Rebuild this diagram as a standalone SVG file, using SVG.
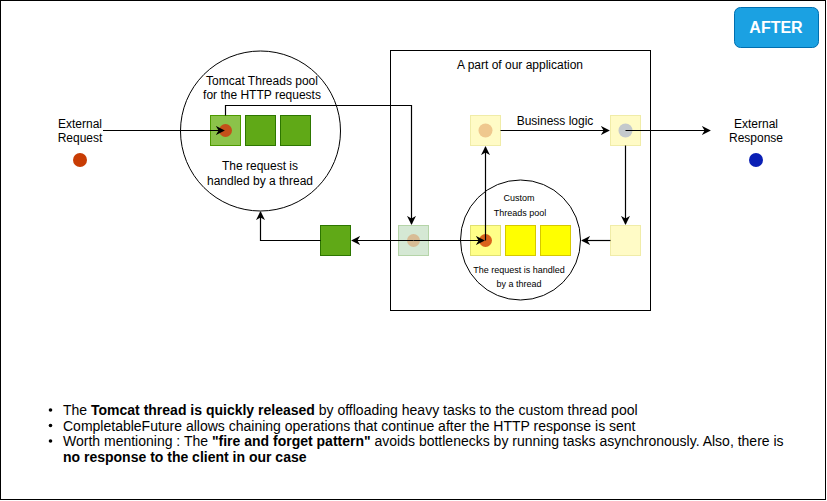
<svg xmlns="http://www.w3.org/2000/svg" width="827" height="501" viewBox="0 0 827 501">
<defs>
<style>
text{font-family:"Liberation Sans",Arial,sans-serif;fill:#000}
.t12{font-size:12px;text-anchor:middle}
.t10{font-size:9px;text-anchor:middle}
.b{font-size:14px}
.conn{fill:none;stroke:#000;stroke-width:1.2}
.g{fill:#60a917;stroke:#2d7600}
.gl{fill:#8bc34a;stroke:#4d9900}
.gp{fill:#d5e8d4;stroke:#b5d4a8}
.y{fill:#ffff00;stroke:#d6c800}
.yl{fill:#ffff88;stroke:#e0e070}
.yp{fill:#fffbc6;stroke:#f0eca8}
</style>
<marker id="arr" viewBox="0 0 10 10" refX="9" refY="5" markerWidth="9" markerHeight="9" orient="auto" markerUnits="userSpaceOnUse">
<path d="M0,0 L10,5 L0,10 L3,5 Z" fill="#000"/>
</marker>
</defs>
<rect x="0.5" y="0.5" width="825" height="499" fill="#fff" stroke="#000" stroke-width="1"/>

<g id="after-badge">
<rect x="734.5" y="7.5" width="84" height="40" rx="6" fill="#1ba1e2" stroke="#006eaf"/>
<text x="776" y="33" style="font-size:16px;font-weight:bold;fill:#fff;text-anchor:middle">AFTER</text>
</g>

<g id="app-box">
<rect x="390.5" y="50.5" width="260" height="260" fill="none" stroke="#000"/>
<text class="t12" x="520" y="69">A part of our application</text>
</g>

<g id="external-request">
<text class="t12" x="80" y="128">External</text>
<text class="t12" x="80" y="142">Request</text>
<circle cx="80" cy="160" r="7" fill="#c83c04"/>
</g>

<g id="external-response">
<text class="t12" x="756" y="128">External</text>
<text class="t12" x="756" y="142">Response</text>
<circle cx="756" cy="160" r="7" fill="#0a1fb5"/>
</g>

<g id="tomcat-pool">
<circle cx="260.5" cy="131" r="80" fill="#fff" stroke="#000"/>
<text class="t12" x="262" y="85">Tomcat Threads pool</text>
<text class="t12" x="262" y="99">for the HTTP requests</text>
<rect class="gl" x="210.5" y="115.5" width="30" height="30"/>
<rect class="g" x="245.5" y="115.5" width="30" height="30"/>
<rect class="g" x="280.5" y="115.5" width="30" height="30"/>
<circle cx="225.5" cy="130.5" r="6.5" fill="#c4501a"/>
<text class="t12" x="260" y="170">The request is</text>
<text class="t12" x="260" y="185">handled by a thread</text>
</g>

<g id="released-thread">
<rect class="g" x="320.5" y="225.5" width="30" height="30"/>
</g>

<g id="handoff">
<rect class="gp" x="398.5" y="225.5" width="30" height="30"/>
<circle cx="413.5" cy="240.5" r="6.5" fill="#d8bc95"/>
</g>

<g id="custom-pool">
<circle cx="520.5" cy="240" r="60" fill="#fff" stroke="#000"/>
<text class="t10" x="519" y="201">Custom</text>
<text class="t10" x="520" y="216">Threads pool</text>
<rect class="yl" x="470.5" y="225.5" width="30" height="30"/>
<rect class="y" x="505.5" y="225.5" width="30" height="30"/>
<rect class="y" x="540.5" y="225.5" width="30" height="30"/>
<circle cx="485.5" cy="240.5" r="6.5" fill="#d9621c"/>
<text class="t10" x="519" y="273">The request is handled</text>
<text class="t10" x="519" y="287">by a thread</text>
</g>

<g id="business-start">
<rect class="yp" x="470.5" y="115.5" width="30" height="30"/>
<circle cx="485.5" cy="130.5" r="7" fill="#efc88e"/>
</g>

<g id="business-end">
<rect class="yp" x="610.5" y="115.5" width="30" height="30"/>
<circle cx="625.5" cy="130.5" r="7" fill="#c4c9cc"/>
</g>

<g id="callback">
<rect class="yp" x="610.5" y="225.5" width="30" height="30"/>
</g>

<g id="connectors">
<path class="conn" d="M103,130.5 H224" marker-end="url(#arr)"/>
<path class="conn" d="M225.5,115.5 V105.5 H411.5 V224" marker-end="url(#arr)"/>
<path class="conn" d="M413.5,240.5 H352" marker-end="url(#arr)"/>
<path class="conn" d="M320.5,240.5 H260.5 V212" marker-end="url(#arr)"/>
<path class="conn" d="M413.5,240.5 H484" marker-end="url(#arr)"/>
<path class="conn" d="M485.5,240.5 V147" marker-end="url(#arr)"/>
<path class="conn" d="M500.5,130.5 H609" marker-end="url(#arr)"/>
<text class="t12" x="555" y="125">Business logic</text>
<path class="conn" d="M625.5,130.5 H710" marker-end="url(#arr)"/>
<path class="conn" d="M625.5,145.5 V224" marker-end="url(#arr)"/>
<path class="conn" d="M610.5,240.5 H582" marker-end="url(#arr)"/>
</g>

<g id="notes">
<circle cx="50.5" cy="410" r="1.8" fill="#000"/>
<circle cx="50.5" cy="425.5" r="1.8" fill="#000"/>
<circle cx="50.5" cy="441" r="1.8" fill="#000"/>
<text class="b" x="63" y="415">The <tspan font-weight="bold">Tomcat thread is quickly released</tspan> by offloading heavy tasks to the custom thread pool</text>
<text class="b" x="63" y="430.5">CompletableFuture allows chaining operations that continue after the HTTP response is sent</text>
<text class="b" x="63" y="446">Worth mentioning : The <tspan font-weight="bold">"fire and forget pattern"</tspan> avoids bottlenecks by running tasks asynchronously. Also, there is</text>
<text class="b" x="63" y="461.5" font-weight="bold">no response to the client in our case</text>
</g>
</svg>
